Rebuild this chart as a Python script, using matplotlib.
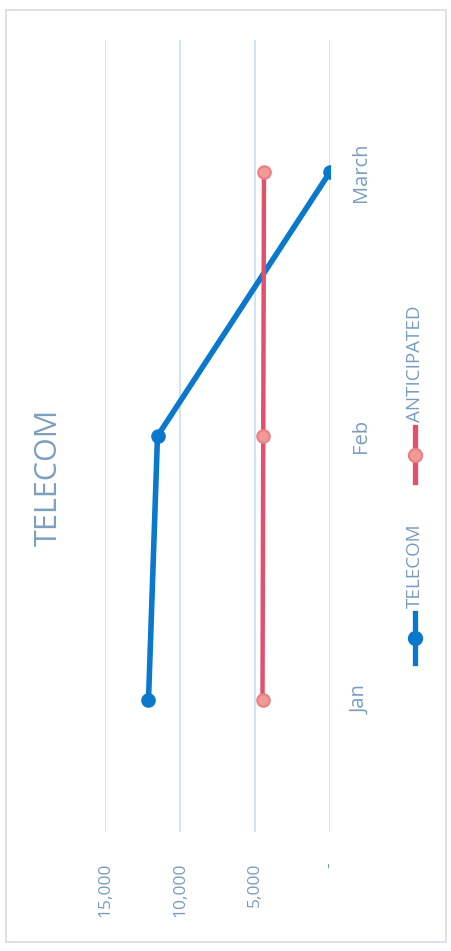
import matplotlib
matplotlib.use("Agg")
import matplotlib.pyplot as plt
from matplotlib.lines import Line2D
from matplotlib.patches import Rectangle

categories = ["Jan", "Feb", "March"]
telecom = [12100, 11500, 0]
anticipated = [4500, 4450, 4400]
value_ticks = [15000, 10000, 5000, 0]
value_tick_labels = ["15,000", "10,000", "5,000", "-"]
title = "TELECOM"
series_names = ["TELECOM", "ANTICIPATED"]

W, H = 451, 951
fig = plt.figure(figsize=(W / 100, H / 100), dpi=100)
fig.patch.set_facecolor("white")

blue = "#0a78cc"
red = "#e2506c"
red_marker = "#f29a96"
grid_c = "#c6dff2"
text_c = "#7a9cc2"

ax = fig.add_axes([105 / W, 1 - 832 / H, (330 - 105) / W, (832 - 40) / H])
ypos = list(range(len(categories)))

ax.plot(telecom, ypos, color=blue, lw=4.0, marker="o", ms=9.5,
        mfc=blue, mec=blue, solid_capstyle="round", zorder=3)
ax.plot(anticipated, ypos, color=red, lw=3.2, marker="o", ms=9,
        mfc=red_marker, mec="#ec7f86", mew=1.5, zorder=3)

ax.set_xlim(15000, 0)
ax.set_ylim(-0.5, len(categories) - 0.5)
ax.set_xticks(value_ticks)
ax.set_xticklabels(value_tick_labels, rotation=90, color=text_c,
                   fontsize=12.5, family="Open Sans")
ax.set_yticks(ypos)
ax.set_yticklabels(categories, rotation=90, color=text_c,
                   fontsize=14.5, family="Open Sans", va="center")
ax.yaxis.tick_right()
ax.tick_params(axis="x", length=0, pad=22)
ax.tick_params(axis="y", length=0, pad=15)
ax.grid(axis="x", color=grid_c, lw=1.2)
ax.set_axisbelow(True)
for s in ax.spines.values():
    s.set_visible(False)

# title
fig.text(49 / W, 1 - 477 / H, title, rotation=90, ha="center", va="center",
         color="#7f9fc0", fontsize=22, family="Open Sans")

# legend (rotated)
lx = 415 / W
items = [
    (series_names[0], blue, blue, blue, 663, 613),
    (series_names[1], red, red_marker, "#ec7f86", 482, 427),
]
for name, lc, mfc, mec, y0, y1 in items:
    yc = (y0 + y1) / 2
    fig.add_artist(Line2D([lx, lx], [1 - y0 / H, 1 - y1 / H], color=lc, lw=3.8,
                          transform=fig.transFigure))
    fig.add_artist(Line2D([lx], [1 - yc / H], marker="o", ms=9.5, mfc=mfc, mec=mec,
                          mew=1.5, transform=fig.transFigure))
    fig.text(lx, 1 - (y1 - 5) / H, name, rotation=90, ha="center", va="bottom",
             color=text_c, fontsize=13.5, family="Open Sans")

# outer frame of the scanned chart
fig.add_artist(Rectangle((6 / W, 1 - 942 / H), (446 - 6) / W, (942 - 10) / H,
                         fill=False, ec="#d5dbe3", lw=1.2, transform=fig.transFigure))

fig.savefig("out.png", dpi=100)
